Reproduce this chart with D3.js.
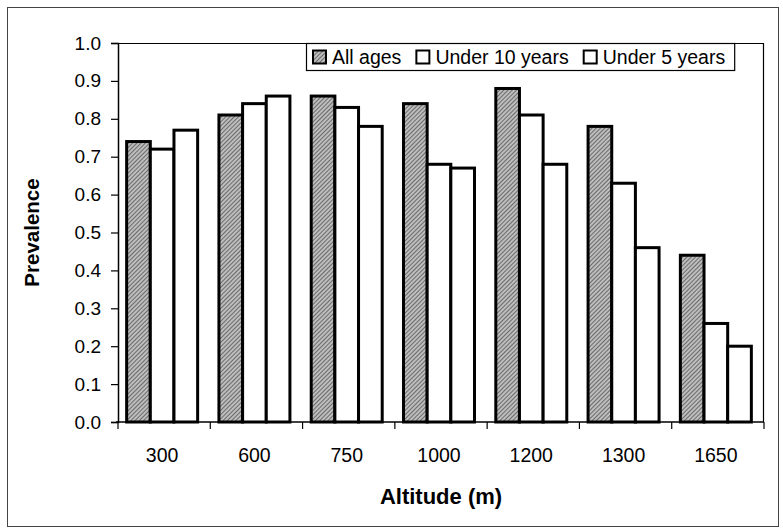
<!doctype html>
<meta charset="utf-8">
<title>Prevalence by altitude</title>
<style>
  body { margin: 0; background: #fff; }
  svg { display: block; font-family: Arial, "Liberation Sans", sans-serif; }
</style>
<svg id="chart" width="783" height="529"></svg>
<script src="https://cdn.jsdelivr.net/npm/d3@7/dist/d3.min.js"></script>
<script>

// data
var altitudes = ["300", "600", "750", "1000", "1200", "1300", "1650"];
var seriesNames = ["All ages", "Under 10 years", "Under 5 years"];
var allAges   = [0.74, 0.81, 0.86, 0.84, 0.88, 0.78, 0.44];
var under10   = [0.72, 0.84, 0.83, 0.68, 0.81, 0.63, 0.26];
var under5    = [0.77, 0.86, 0.78, 0.67, 0.68, 0.46, 0.20];
var yTicks    = [0, 0.1, 0.2, 0.3, 0.4, 0.5, 0.6, 0.7, 0.8, 0.9, 1.0];

var seriesValues = [allAges, under10, under5];
var rows = altitudes.map(function(a, i) {
  return { alt: a, vals: seriesNames.map(function(s, j) { return { name: s, v: seriesValues[j][i] }; }) };
});

var svg = d3.select("#chart");
var plot = { left: 118, right: 764, top: 43, bottom: 422 };

// hatch pattern for "All ages"
var defs = svg.append("defs");
var pat = defs.append("pattern")
  .attr("id", "hatch")
  .attr("patternUnits", "userSpaceOnUse")
  .attr("width", 3).attr("height", 3)
  .attr("patternTransform", "rotate(45)");
pat.append("rect").attr("width", 3).attr("height", 3).attr("fill", "#bdbdbd");
pat.append("line").attr("x1", 0).attr("y1", 0).attr("x2", 0).attr("y2", 3)
  .attr("stroke", "#333").attr("stroke-width", 1.2);

var fills = { "All ages": "url(#hatch)", "Under 10 years": "#fff", "Under 5 years": "#fff" };

// outer frame
svg.append("rect")
  .attr("x", 7.5).attr("y", 7.5).attr("width", 771).attr("height", 519)
  .attr("fill", "none").attr("stroke", "#444").attr("stroke-width", 1);

// scales
var x0 = d3.scaleBand().domain(altitudes).range([plot.left, plot.right]).padding(0);
var x1 = d3.scaleBand().domain(seriesNames).range([-2, x0.bandwidth() - 2])
  .paddingInner(0).paddingOuter(0.45);
var y = d3.scaleLinear().domain([0, 1]).range([plot.bottom, plot.top]);

// plot border (top and right)
svg.append("path")
  .attr("d", "M" + plot.left + "," + (plot.top + 0.5) + "H" + (plot.right - 0.5) + "V" + plot.bottom)
  .attr("fill", "none").attr("stroke", "#000").attr("stroke-width", 1.2);

// bars
var groups = svg.append("g").selectAll("g")
  .data(rows).enter().append("g")
  .attr("transform", function(d) { return "translate(" + x0(d.alt) + ",0)"; });

groups.selectAll("rect")
  .data(function(d) { return d.vals; })
  .enter().append("rect")
  .attr("x", function(d) { return x1(d.name); })
  .attr("y", function(d) { return y(d.v); })
  .attr("width", x1.bandwidth())
  .attr("height", function(d) { return y(0) - y(d.v); })
  .attr("fill", function(d) { return fills[d.name]; })
  .attr("stroke", "#000")
  .attr("stroke-width", 3);

// y axis
var yAxis = svg.append("g")
  .attr("transform", "translate(" + plot.left + ",0)")
  .call(d3.axisLeft(y).tickValues(yTicks).tickFormat(d3.format(".1f")).tickSize(7).tickPadding(10));
yAxis.select(".domain").attr("stroke", "#000").attr("stroke-width", 1.5);
yAxis.selectAll("line").attr("stroke", "#000").attr("stroke-width", 1.2);
yAxis.selectAll("text").attr("font-size", 19).attr("fill", "#000")
  .attr("font-family", "Arial, 'Liberation Sans', sans-serif");

// x axis with ticks between categories
var xBounds = altitudes.map(function(a) { return x0(a); }).concat([plot.right]);
var xAxis = svg.append("g").attr("transform", "translate(0," + plot.bottom + ")");
xAxis.append("line")
  .attr("x1", plot.left - 2).attr("x2", plot.right)
  .attr("stroke", "#000").attr("stroke-width", 1.5);
xAxis.selectAll(".tk").data(xBounds).enter().append("line")
  .attr("class", "tk")
  .attr("x1", function(d) { return d; }).attr("x2", function(d) { return d; })
  .attr("y1", 0).attr("y2", 7)
  .attr("stroke", "#000").attr("stroke-width", 1.2);
xAxis.selectAll(".lbl").data(altitudes).enter().append("text")
  .attr("class", "lbl")
  .attr("x", function(d) { return x0(d) + x0.bandwidth() / 2 - 2; })
  .attr("y", 40)
  .attr("text-anchor", "middle")
  .attr("font-size", 19.5)
  .text(function(d) { return d; });

// axis titles
svg.append("text")
  .attr("x", (plot.left + plot.right) / 2).attr("y", 504)
  .attr("text-anchor", "middle")
  .attr("font-size", 22).attr("font-weight", "bold")
  .text("Altitude (m)");

svg.append("text")
  .attr("transform", "translate(39," + ((plot.top + plot.bottom) / 2) + ") rotate(-90)")
  .attr("text-anchor", "middle")
  .attr("font-size", 20.5).attr("font-weight", "bold")
  .text("Prevalence");

// legend
var legend = svg.append("g").attr("transform", "translate(306,43)");
var legBox = legend.append("rect")
  .attr("x", 0.5).attr("y", 0.5).attr("height", 27)
  .attr("fill", "#fff").attr("stroke", "#000").attr("stroke-width", 1.2);

var items = legend.selectAll(".item").data(seriesNames).enter().append("g")
  .attr("class", "item");
items.append("rect")
  .attr("x", 0).attr("y", 7.5).attr("width", 13).attr("height", 13)
  .attr("fill", function(d) { return fills[d]; })
  .attr("stroke", "#000").attr("stroke-width", 2);
items.append("text")
  .attr("x", 19).attr("y", 21)
  .attr("font-size", 19.5)
  .text(function(d) { return d; });

var cursor = 7;
items.each(function() {
  var g = d3.select(this);
  g.attr("transform", "translate(" + cursor + ",0)");
  cursor += 19 + g.select("text").node().getComputedTextLength() + 15;
});
legBox.attr("width", cursor - 6);

</script>
